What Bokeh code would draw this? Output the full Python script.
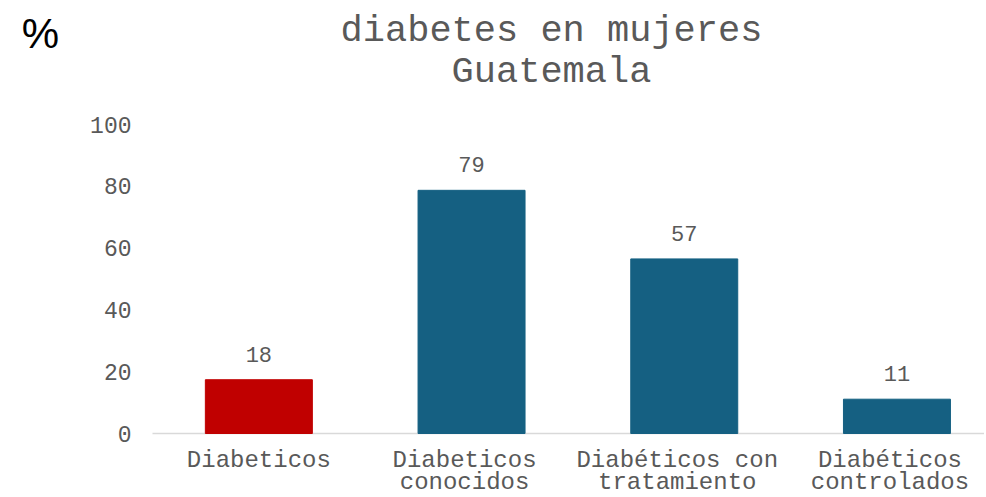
from bokeh.plotting import figure
from bokeh.models import ColumnDataSource, LabelSet, Label, Range1d
from bokeh.core.properties import value
from bokeh.embed import file_html
from bokeh.resources import INLINE

categories = ["Diabeticos", "Diabeticos\nconocidos", "Diabéticos con\ntratamiento", "Diabéticos\ncontrolados"]
values = [17.4, 78.7, 56.5, 11.1]
labels = ["18", "79", "57", "11"]
colors = ["#C00000", "#156082", "#156082", "#156082"]
y_ticks = [0, 20, 40, 60, 80, 100]

FONT = "Liberation Mono"
GRAY = "#595959"

W, H = 984, 497
# plot-area placement (pixels) inside the canvas
LEFT, TOP, BOTTOM = 152, 124, 433
px_per_y = (BOTTOM - TOP) / 100.0
px_per_x = 212.7
x_lo = -LEFT / px_per_x
x_hi = (W - LEFT) / px_per_x
y_lo = -(H - BOTTOM) / px_per_y
y_hi = 100 + TOP / px_per_y

# small horizontal nudge of category texts (layout only)
label_nudge = [0, -7, -7, -7]

xs = [i + 0.5 for i in range(len(categories))]
line1 = [c.split("\n")[0] for c in categories]
line2 = [c.split("\n")[1] if "\n" in c else "" for c in categories]
src = ColumnDataSource(dict(x=xs, top=values, lab=labels, color=colors,
                            zero=[0] * len(xs), l1=line1, l2=line2, dx=label_nudge))
tick_src = ColumnDataSource(dict(y=y_ticks, t=[str(v) for v in y_ticks], x=[0] * len(y_ticks)))

p = figure(width=W, height=H, output_backend="svg", toolbar_location=None,
           x_range=Range1d(x_lo, x_hi), y_range=Range1d(y_lo, y_hi),
           min_border=0)
p.outline_line_color = None
p.grid.visible = False
p.axis.visible = False

# baseline (category axis line)
p.segment(x0=[0], y0=[0], x1=[x_hi], y1=[0], line_color="#D9D9D9", line_width=1.5)

p.vbar(x="x", top="top", width=0.503, bottom=0, color="color", source=src)

p.add_layout(LabelSet(x="x", y="top", text="lab", source=src, y_offset=18,
                      text_align="center", text_baseline="alphabetic",
                      text_font=value(FONT), text_font_size=value("22px"), text_color=GRAY))
p.add_layout(LabelSet(x="x", y="zero", text="l1", source=src, x_offset="dx", y_offset=-27,
                      text_align="center", text_baseline="middle",
                      text_font=value(FONT), text_font_size=value("24px"), text_color=GRAY))
p.add_layout(LabelSet(x="x", y="zero", text="l2", source=src, x_offset="dx", y_offset=-49,
                      text_align="center", text_baseline="middle",
                      text_font=value(FONT), text_font_size=value("24px"), text_color=GRAY))

# y tick labels
p.text(x="x", y="y", text="t", source=tick_src, x_offset=-21,
       text_align="right", text_baseline="middle",
       text_font=value(FONT), text_font_size=value("23px"), text_color=GRAY)

p.add_layout(Label(x=551, y=H - 30, x_units="screen", y_units="screen",
                   text="diabetes en mujeres", text_align="center", text_baseline="middle",
                   text_font=FONT, text_font_size="37px", text_color=GRAY))
p.add_layout(Label(x=551, y=H - 71, x_units="screen", y_units="screen",
                   text="Guatemala", text_align="center", text_baseline="middle",
                   text_font=FONT, text_font_size="37px", text_color=GRAY))
p.add_layout(Label(x=40, y=H - 33, x_units="screen", y_units="screen",
                   text="%", text_align="center", text_baseline="middle",
                   text_font="Liberation Sans", text_font_size="42px", text_color="#000000"))

open("out.html", "w").write(file_html(p, INLINE))
